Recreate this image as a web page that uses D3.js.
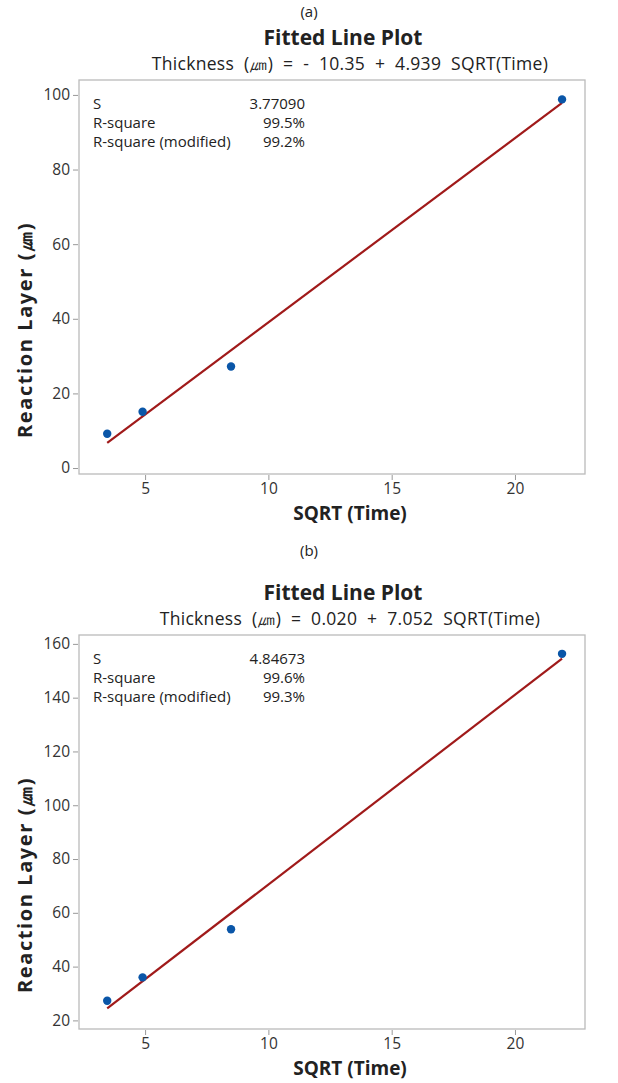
<!DOCTYPE html>
<html>
<head>
<meta charset="utf-8">
<script src="https://cdn.jsdelivr.net/npm/d3@7"></script>
<style>
  html, body { margin: 0; padding: 0; background: #fff; }
  svg text { font-family: "Open Sans", "Noto Sans", sans-serif; fill: #222; }
  .tick text { font-size: 15.5px; fill: #333; }
  .tick line { stroke: #999; }
  .domain { stroke: none; }
</style>
</head>
<body>
<svg id="chart" width="618" height="1083"></svg>
<script>
// sqrt(time) at which the layer was measured
const sqrtTime = [3.464, 4.899, 8.485, 21.909];

// panel (a)
const thickA = [9.2, 15.1, 27.2, 98.8];
const fitA = { b0: -10.35, b1: 4.939 };
const statsA = [["S", "3.77090"], ["R-square", "99.5%"], ["R-square (modified)", "99.2%"]];
const yTicksA = [0, 20, 40, 60, 80, 100];

// panel (b)
const thickB = [27.3, 36.0, 53.9, 156.3];
const fitB = { b0: 0.020, b1: 7.052 };
const statsB = [["S", "4.84673"], ["R-square", "99.6%"], ["R-square (modified)", "99.3%"]];
const yTicksB = [20, 40, 60, 80, 100, 120, 140, 160];

const xTicks = [5, 10, 15, 20];

const svg = d3.select('#chart');

function drawPanel(top, tag, tagY, subtitle, ys, fit, stats, yTicks, yDomain) {
    const left = 79, right = 585;
    const fTop = top + 80, fBot = top + 474;
    const g = svg.append('g');

    const x = d3.scaleLinear().domain([2.32, 22.84]).range([left, right]);
    const y = d3.scaleLinear().domain(yDomain).range([fBot, fTop]);

    // headings
    g.append('text').attr('x', 309).attr('y', tagY)
        .attr('text-anchor', 'middle').style('font-size', '15px').text(tag);
    g.append('text').attr('x', 343).attr('y', top + 45)
        .attr('text-anchor', 'middle').style('font-size', '21px').style('font-weight', 'bold')
        .text('Fitted Line Plot');
    g.append('text').attr('x', 350).attr('y', top + 70)
        .attr('text-anchor', 'middle').style('font-size', '17.5px')
        .style('word-spacing', '5px').style('letter-spacing', '0.3px')
        .text(subtitle);

    // frame
    g.append('rect').attr('x', left).attr('y', fTop)
        .attr('width', right - left).attr('height', fBot - fTop)
        .attr('fill', 'none').attr('stroke', '#bbb').attr('stroke-width', 1.3);

    // axes
    g.append('g').attr('transform', `translate(${left - 1},0)`)
        .call(d3.axisLeft(y).tickValues(yTicks).tickSize(5).tickPadding(3));
    g.append('g').attr('transform', `translate(0,${fBot + 1})`)
        .call(d3.axisBottom(x).tickValues(xTicks).tickSize(5).tickPadding(3));

    // axis titles
    g.append('text').attr('x', 350).attr('y', top + 520)
        .attr('text-anchor', 'middle').style('font-size', '19px').style('font-weight', 'bold')
        .text('SQRT (Time)');
    g.append('text')
        .attr('transform', `translate(32,${fBot - 36}) rotate(-90)`)
        .attr('text-anchor', 'start').style('font-size', '20px').style('font-weight', 'bold')
        .style('letter-spacing', '1.6px')
        .text('Reaction Layer (㎛)');

    // stats table
    stats.forEach((row, i) => {
        const yy = fTop + 29 + i * 19;
        g.append('text').attr('x', 93).attr('y', yy).style('font-size', '15px').text(row[0]);
        g.append('text').attr('x', 305).attr('y', yy).attr('text-anchor', 'end')
            .style('font-size', '15px').text(row[1]);
    });

    // fitted line over the data range
    const ext = d3.extent(sqrtTime);
    g.append('line')
        .attr('x1', x(ext[0])).attr('y1', y(fit.b0 + fit.b1 * ext[0]))
        .attr('x2', x(ext[1])).attr('y2', y(fit.b0 + fit.b1 * ext[1]))
        .attr('stroke', '#a01a1a').attr('stroke-width', 2.2);

    // points
    g.selectAll('circle.pt').data(sqrtTime).enter().append('circle')
        .attr('class', 'pt')
        .attr('cx', d => x(d))
        .attr('cy', (d, i) => y(ys[i]))
        .attr('r', 4.2)
        .attr('fill', '#0a56a8');
}

drawPanel(0, '(a)', 17, 'Thickness (㎛) = - 10.35 + 4.939 SQRT(Time)', thickA, fitA, statsA, yTicksA, [-1.6, 104]);
drawPanel(555, '(b)', 556, 'Thickness (㎛) = 0.020 + 7.052 SQRT(Time)', thickB, fitB, statsB, yTicksB, [16.8, 163.3]);
</script>
</body>
</html>
